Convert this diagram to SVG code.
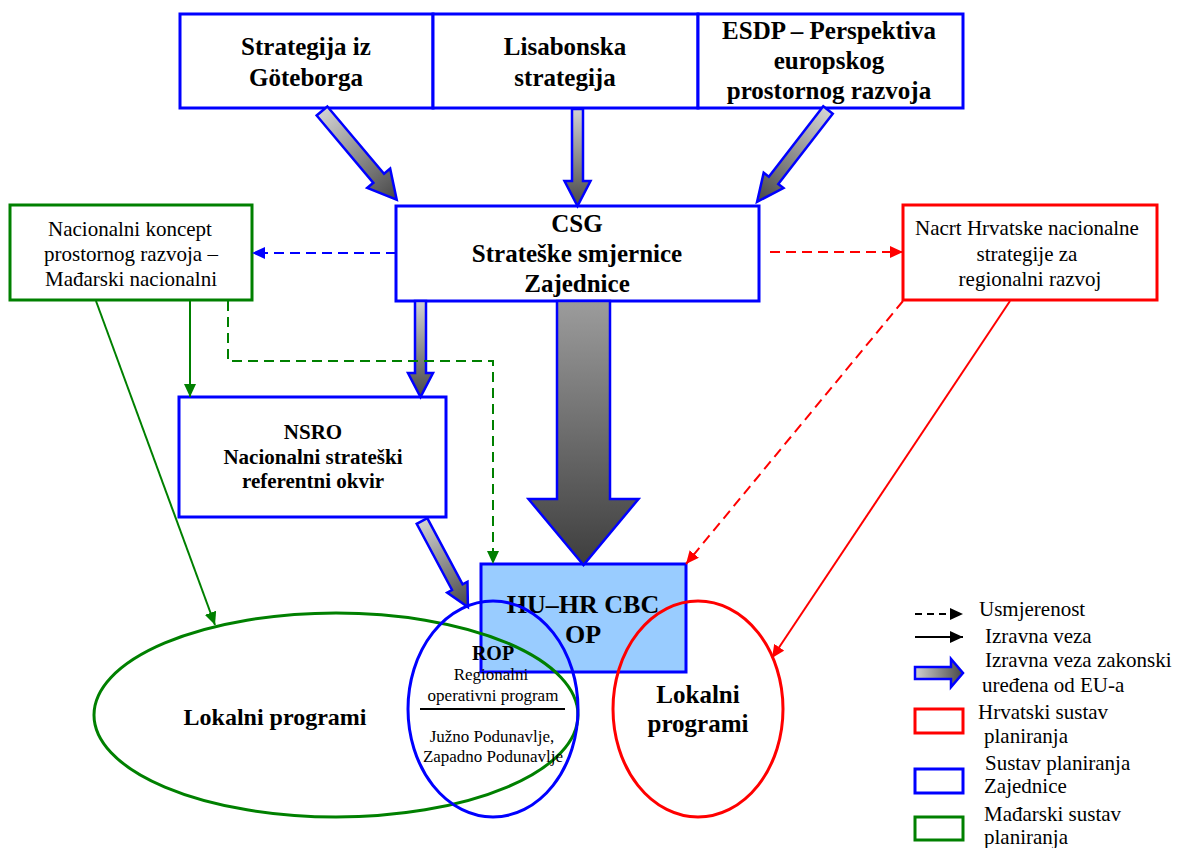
<svg xmlns="http://www.w3.org/2000/svg" width="1178" height="848" viewBox="0 0 1178 848">
<style>
.bx{fill:#fff;stroke:#0000ff;stroke-width:3}
.gb{fill:#fff;stroke:#008000;stroke-width:3}
.rb{fill:#fff;stroke:#ff0000;stroke-width:3}
.tb{font-family:"Liberation Serif",serif;font-weight:bold;fill:#000;text-anchor:middle}
.tr{font-family:"Liberation Serif",serif;fill:#000;text-anchor:middle}
.tl{font-family:"Liberation Serif",serif;fill:#000;font-size:21px}
.ba{fill:url(#g1);stroke:#0000ff;stroke-width:2.5;stroke-linejoin:miter}
.ln{fill:none;stroke-width:2}
</style>
<defs>
<linearGradient id="g1" x1="0" y1="0" x2="1" y2="0">
<stop offset="0" stop-color="#d2d2d2"/>
<stop offset="1" stop-color="#474747"/>
</linearGradient>
<linearGradient id="g2" x1="0" y1="0" x2="1" y2="0">
<stop offset="0" stop-color="#9c9c9c"/>
<stop offset="1" stop-color="#3e3e3e"/>
</linearGradient>
<marker id="mB" markerUnits="userSpaceOnUse" markerWidth="13" markerHeight="12" refX="13" refY="6" orient="auto"><path d="M0,0 L13,6 L0,12 z" fill="#0000ff"/></marker>
<marker id="mG" markerUnits="userSpaceOnUse" markerWidth="13" markerHeight="12" refX="13" refY="6" orient="auto"><path d="M0,0 L13,6 L0,12 z" fill="#008000"/></marker>
<marker id="mR" markerUnits="userSpaceOnUse" markerWidth="13" markerHeight="12" refX="13" refY="6" orient="auto"><path d="M0,0 L13,6 L0,12 z" fill="#ff0000"/></marker>
<marker id="mK" markerUnits="userSpaceOnUse" markerWidth="13" markerHeight="12" refX="13" refY="6" orient="auto"><path d="M0,0 L13,6 L0,12 z" fill="#000"/></marker>
</defs>

<g id="n-goteborg">
<rect class="bx" x="180" y="14" width="253" height="94"/>
<text class="tb" font-size="25" x="306" y="55">Strategija iz</text>
<text class="tb" font-size="25" x="306" y="86">Göteborga</text>
</g>
<g id="n-lisabon">
<rect class="bx" x="433" y="14" width="265" height="94"/>
<text class="tb" font-size="25" x="565" y="55">Lisabonska</text>
<text class="tb" font-size="25" x="565" y="86">strategija</text>
</g>
<g id="n-esdp">
<rect class="bx" x="698" y="14" width="265" height="94"/>
<text class="tb" font-size="25" x="829" y="39">ESDP – Perspektiva</text>
<text class="tb" font-size="25" x="829" y="69">europskog</text>
<text class="tb" font-size="25" x="829" y="99">prostornog razvoja</text>
</g>

<g id="n-csg">
<rect class="bx" x="396" y="206" width="363" height="95"/>
<text class="tb" font-size="25" x="577" y="232">CSG</text>
<text class="tb" font-size="25" x="577" y="262">Strateške smjernice</text>
<text class="tb" font-size="25" x="577" y="292">Zajednice</text>
</g>

<g id="n-hu">
<rect class="gb" x="10" y="205" width="242" height="95"/>
<text class="tr" font-size="21" x="130" y="236">Nacionalni koncept</text>
<text class="tr" font-size="21" x="131" y="261">prostornog razvoja –</text>
<text class="tr" font-size="21" x="131" y="286">Mađarski nacionalni</text>
</g>

<g id="n-hr">
<rect class="rb" x="903" y="205" width="254" height="95"/>
<text class="tr" font-size="21" x="1027" y="235">Nacrt Hrvatske nacionalne</text>
<text class="tr" font-size="21" x="1027" y="261">strategije za</text>
<text class="tr" font-size="21" x="1030" y="286">regionalni razvoj</text>
</g>

<g id="n-nsro">
<rect class="bx" x="179" y="397" width="267" height="120"/>
<text class="tb" font-size="21" x="313" y="439">NSRO</text>
<text class="tb" font-size="21" x="313" y="464">Nacionalni strateški</text>
<text class="tb" font-size="21" x="313" y="488">referentni okvir</text>
</g>

<g id="n-cbc">
<rect x="481" y="564" width="205" height="108" fill="#99ccff" stroke="#0000ff" stroke-width="3"/>
<text class="tb" font-size="26" x="583" y="613">HU–HR CBC</text>
<text class="tb" font-size="26" x="583" y="643">OP</text>
</g>

<g id="connectors">
<path class="ba" transform="translate(322,111) rotate(49.9)" d="M0,-7 L88,-7 L88,-15 L116,0 L88,15 L88,7 L0,7 Z"/>
<path class="ba" transform="translate(577.5,109) rotate(90)" d="M0,-5.5 L72,-5.5 L72,-13 L97,0 L72,13 L72,5.5 L0,5.5 Z"/>
<path class="ba" transform="translate(828,110) rotate(127.7)" d="M0,-6 L89,-6 L89,-12.5 L116,0 L89,12.5 L89,6 L0,6 Z"/>
<path class="ba" transform="translate(420.5,301) rotate(90)" d="M0,-5.5 L72,-5.5 L72,-12.5 L96,0 L72,12.5 L72,5.5 L0,5.5 Z"/>
<path class="ba" style="fill:url(#g2)" transform="translate(583.5,301) rotate(90)" d="M0,-26.5 L198,-26.5 L198,-55 L264,0 L198,55 L198,26.5 L0,26.5 Z"/>
<path class="ba" transform="translate(422,521) rotate(61.9)" d="M0,-6 L75,-6 L75,-11.5 L97.5,0 L75,11.5 L75,6 L0,6 Z"/>

<path class="ln" stroke="#0000ff" stroke-dasharray="10,6" d="M396,253 L252,253" marker-end="url(#mB)"/>
<path class="ln" stroke="#ff0000" stroke-dasharray="10,6" d="M770,252 L903,252" marker-end="url(#mR)"/>
<path class="ln" stroke="#008000" d="M96,301 L215,625" marker-end="url(#mG)"/>
<path class="ln" stroke="#008000" d="M190,301 L190,397" marker-end="url(#mG)"/>
<path class="ln" stroke="#008000" stroke-dasharray="10,6" d="M228,301 L228,361 L493,361 L493,564" marker-end="url(#mG)"/>
<path class="ln" stroke="#ff0000" stroke-dasharray="10,6" d="M903,301 L686,564" marker-end="url(#mR)"/>
<path class="ln" stroke="#ff0000" d="M1010,301 L772,658" marker-end="url(#mR)"/>
</g>

<g id="n-lok-hu">
<ellipse cx="336" cy="715" rx="242" ry="102" fill="none" stroke="#008000" stroke-width="3"/>
<text class="tb" font-size="24" x="275" y="725">Lokalni programi</text>
</g>
<g id="n-rop">
<ellipse cx="493" cy="709" rx="85" ry="108" fill="none" stroke="#0000ff" stroke-width="3"/>
<text class="tb" font-size="20" x="493" y="660">ROP</text>
<text class="tr" font-size="17" x="491" y="680">Regionalni</text>
<text class="tr" font-size="17" x="493" y="701">operativni program</text>
<line x1="420" y1="709" x2="565" y2="709" stroke="#000" stroke-width="2"/>
<text class="tr" font-size="17" x="492" y="742">Južno Podunavlje,</text>
<text class="tr" font-size="17" x="493" y="762">Zapadno Podunavlje</text>
</g>
<g id="n-lok-hr">
<ellipse cx="698" cy="709" rx="85" ry="108" fill="none" stroke="#ff0000" stroke-width="3"/>
<text class="tb" font-size="25" x="698" y="703">Lokalni</text>
<text class="tb" font-size="25" x="698" y="732">programi</text>
</g>

<g id="legend">
<path class="ln" stroke="#000" stroke-dasharray="7,5" d="M915,614 L963,614" marker-end="url(#mK)"/>
<text class="tl" x="979" y="616">Usmjerenost</text>
<path class="ln" stroke="#000" d="M915,637 L963,637" marker-end="url(#mK)"/>
<text class="tl" x="985" y="643">Izravna veza</text>
<path class="ba" transform="translate(915,673)" d="M0,-6 L36,-6 L36,-14 L48,0 L36,14 L36,6 L0,6 Z"/>
<text class="tl" x="985" y="667">Izravna veza zakonski</text>
<text class="tl" x="982" y="692">uređena od EU-a</text>
<rect x="915" y="709" width="48" height="24" class="rb"/>
<text class="tl" x="978" y="719">Hrvatski sustav</text>
<text class="tl" x="984" y="743">planiranja</text>
<rect x="915" y="769" width="48" height="24" class="bx"/>
<text class="tl" x="985" y="770">Sustav planiranja</text>
<text class="tl" x="984" y="793">Zajednice</text>
<rect x="915" y="817" width="48" height="23" class="gb"/>
<text class="tl" x="984" y="821">Mađarski sustav</text>
<text class="tl" x="984" y="844">planiranja</text>
</g>
</svg>
